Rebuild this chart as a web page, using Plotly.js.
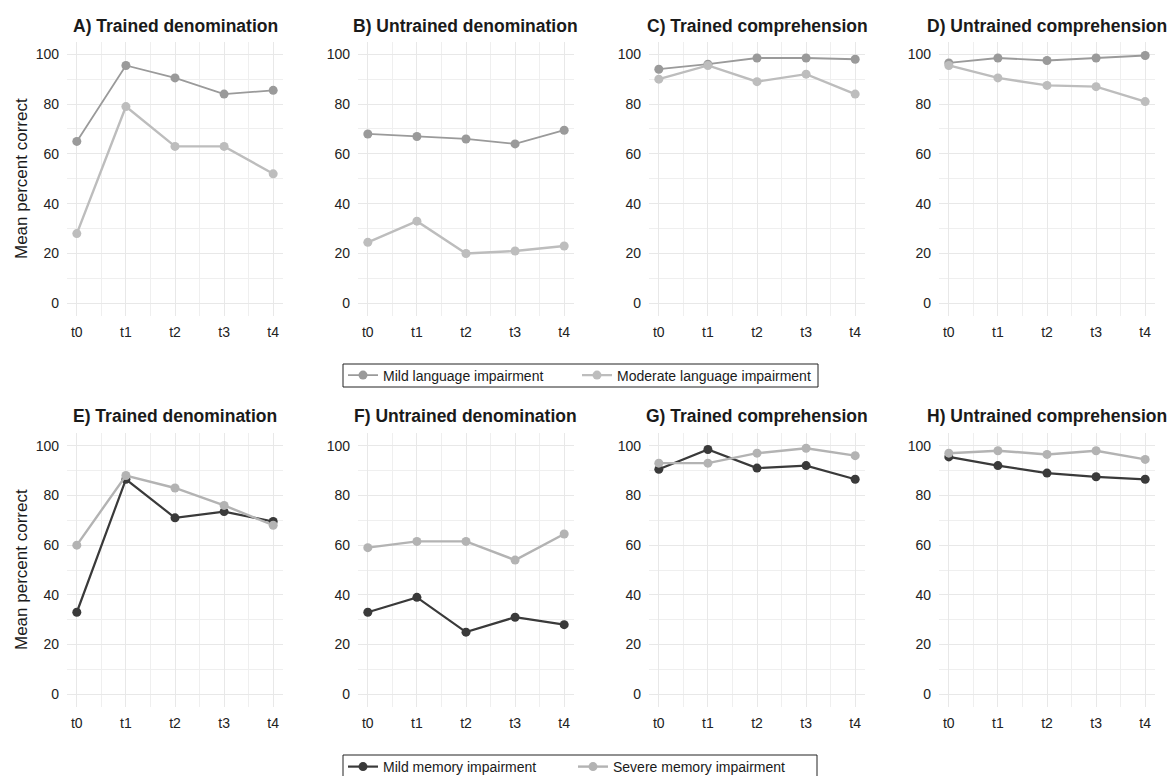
<!DOCTYPE html>
<html>
<head>
<meta charset="utf-8">
<script src="https://cdn.plot.ly/plotly-3.0.1.min.js"></script>
<style>
  html, body { margin: 0; padding: 0; background: #ffffff; }
  #chart { width: 1174px; height: 776px; }
</style>
</head>
<body>
<div id="chart"></div>
<script>
// Time points of assessment
const timepoints = ['t0', 't1', 't2', 't3', 't4'];

// Panel titles
const panelTitles = [
  'A) Trained denomination', 'B) Untrained denomination',
  'C) Trained comprehension', 'D) Untrained comprehension',
  'E) Trained denomination', 'F) Untrained denomination',
  'G) Trained comprehension', 'H) Untrained comprehension'
];

// Group names
const groupMildLanguage = 'Mild language impairment';
const groupModerateLanguage = 'Moderate language impairment';
const groupMildMemory = 'Mild memory impairment';
const groupSevereMemory = 'Severe memory impairment';

// Mean percent correct, language-impairment groups (panels A-D)
const mildLangTrainedDen     = [65, 95.5, 90.5, 84, 85.5];
const moderateLangTrainedDen = [28, 79, 63, 63, 52];
const mildLangUntrainedDen     = [68, 67, 66, 64, 69.5];
const moderateLangUntrainedDen = [24.5, 33, 20, 21, 23];
const mildLangTrainedComp     = [94, 96, 98.5, 98.5, 98];
const moderateLangTrainedComp = [90, 95.5, 89, 92, 84];
const mildLangUntrainedComp     = [96.5, 98.5, 97.5, 98.5, 99.5];
const moderateLangUntrainedComp = [95.5, 90.5, 87.5, 87, 81];

// Mean percent correct, memory-impairment groups (panels E-H)
const mildMemTrainedDen   = [33, 86.5, 71, 73.5, 69.5];
const severeMemTrainedDen = [60, 88, 83, 76, 68];
const mildMemUntrainedDen   = [33, 39, 25, 31, 28];
const severeMemUntrainedDen = [59, 61.5, 61.5, 54, 64.5];
const mildMemTrainedComp   = [90.5, 98.5, 91, 92, 86.5];
const severeMemTrainedComp = [93, 93, 97, 99, 96];
const mildMemUntrainedComp   = [95.5, 92, 89, 87.5, 86.5];
const severeMemUntrainedComp = [97, 98, 96.5, 98, 94.5];

// Y-axis ticks
const yTicks = [0, 20, 40, 60, 80, 100];
const yMinor = [10, 30, 50, 70, 90];

const FONT = '"Liberation Sans", Arial, Helvetica, sans-serif';
const W = 1174, H = 776;

const xIdx = timepoints.map((_, i) => i);
const xMinor = timepoints.slice(1).map((_, i) => i + 0.5);

// Styles per group
const styles = {
  mildLang:   { color: '#9a9a9a', width: 1.8, legend: 'legend'  },
  modLang:    { color: '#bdbdbd', width: 2.4, legend: 'legend'  },
  mildMem:    { color: '#3a3a3a', width: 2.2, legend: 'legend2' },
  sevMem:     { color: '#b3b3b3', width: 2.4, legend: 'legend2' }
};

// Panel contents: [first series, second series]
const panels = [
  [[groupMildLanguage, mildLangTrainedDen, 'mildLang'], [groupModerateLanguage, moderateLangTrainedDen, 'modLang']],
  [[groupMildLanguage, mildLangUntrainedDen, 'mildLang'], [groupModerateLanguage, moderateLangUntrainedDen, 'modLang']],
  [[groupMildLanguage, mildLangTrainedComp, 'mildLang'], [groupModerateLanguage, moderateLangTrainedComp, 'modLang']],
  [[groupMildLanguage, mildLangUntrainedComp, 'mildLang'], [groupModerateLanguage, moderateLangUntrainedComp, 'modLang']],
  [[groupMildMemory, mildMemTrainedDen, 'mildMem'], [groupSevereMemory, severeMemTrainedDen, 'sevMem']],
  [[groupMildMemory, mildMemUntrainedDen, 'mildMem'], [groupSevereMemory, severeMemUntrainedDen, 'sevMem']],
  [[groupMildMemory, mildMemTrainedComp, 'mildMem'], [groupSevereMemory, severeMemTrainedComp, 'sevMem']],
  [[groupMildMemory, mildMemUntrainedComp, 'mildMem'], [groupSevereMemory, severeMemUntrainedComp, 'sevMem']]
];

// Panel geometry in pixels
const colLeft = [67, 358, 649, 939];
const panelW = 216;
const rowTop = [41.8, 433.3];
const rowBottom = [315.8, 706.7];

// Legend boxes (pixels): left, right, top, bottom
const legendBoxes = [[343, 818, 364, 387], [343, 817, 755, 779]];

const legendStyle = (boxIdx) => ({
  orientation: 'h',
  x: legendBoxes[boxIdx][0] / W,
  y: 1 - ((legendBoxes[boxIdx][2] + legendBoxes[boxIdx][3]) / 2) / H,
  xanchor: 'left', yanchor: 'middle',
  borderwidth: 0, bgcolor: 'rgba(0,0,0,0)',
  font: { family: FONT, size: 14, color: '#1a1a1a' },
  itemwidth: 30, tracegroupgap: 0
});

const traces = [];
const layout = {
  width: W, height: H,
  margin: { l: 0, r: 0, t: 0, b: 0, autoexpand: false },
  paper_bgcolor: '#ffffff',
  plot_bgcolor: '#ffffff',
  font: { family: FONT, color: '#222222', size: 14 },
  annotations: [],
  shapes: legendBoxes.map(([l, r, t, b]) => ({
    type: 'rect', xref: 'paper', yref: 'paper',
    x0: l / W, x1: r / W, y0: 1 - b / H, y1: 1 - t / H,
    line: { color: '#222222', width: 1 }, fillcolor: 'rgba(0,0,0,0)', layer: 'above'
  })),
  legend: legendStyle(0),
  legend2: legendStyle(1)
};

panels.forEach((series, p) => {
  const row = Math.floor(p / 4), col = p % 4;
  const n = p + 1;
  const xa = 'x' + (n === 1 ? '' : n), ya = 'y' + (n === 1 ? '' : n);
  const xKey = 'xaxis' + (n === 1 ? '' : n), yKey = 'yaxis' + (n === 1 ? '' : n);

  series.forEach(([name, vals, key], s) => {
    const st = styles[key];
    traces.push({
      type: 'scatter', mode: 'lines+markers',
      x: xIdx, y: vals, name: name,
      xaxis: xa, yaxis: ya,
      line: { color: st.color, width: st.width },
      marker: { color: st.color, size: 9 },
      legend: st.legend,
      showlegend: p === 0 || p === 4,
      legendwidth: s === 0 ? (row === 0 ? 189 : 185) : undefined,
      hoverinfo: 'x+y+name'
    });
  });

  const x0 = colLeft[col] / W, x1 = (colLeft[col] + panelW) / W;
  const y0 = 1 - rowBottom[row] / H, y1 = 1 - rowTop[row] / H;

  layout[xKey] = {
    domain: [x0, x1], anchor: ya, range: [-0.2, 4.2],
    tickmode: 'array', tickvals: xIdx, ticktext: timepoints,
    showgrid: true, gridcolor: '#e8e8e8', gridwidth: 1,
    minor: { tickmode: 'array', tickvals: xMinor, showgrid: true, gridcolor: '#efefef', gridwidth: 1, ticks: '' },
    zeroline: false, showline: false, ticks: '',
    ticklabelstandoff: 6,
    tickfont: { family: FONT, size: 14, color: '#222222' },
    fixedrange: true
  };
  layout[yKey] = {
    domain: [y0, y1], anchor: xa, range: [-5, 105],
    tickmode: 'array', tickvals: yTicks,
    showgrid: true, gridcolor: '#e8e8e8', gridwidth: 1,
    minor: { tickmode: 'array', tickvals: yMinor, showgrid: true, gridcolor: '#efefef', gridwidth: 1, ticks: '' },
    zeroline: false, showline: false, ticks: '',
    ticklabelstandoff: 7,
    tickfont: { family: FONT, size: 14, color: '#222222' },
    fixedrange: true
  };

  // Panel title
  layout.annotations.push({
    text: '<b>' + panelTitles[p] + '</b>',
    xref: 'paper', yref: 'paper',
    x: (colLeft[col] + panelW / 2) / W,
    y: 1 - (row === 0 ? 26 : 416) / H,
    xanchor: 'center', yanchor: 'middle', showarrow: false,
    font: { family: FONT, size: 17.5, color: '#1a1a1a' }
  });
});

// Shared y-axis labels for each row
[179, 570].forEach(cy => {
  layout.annotations.push({
    text: 'Mean percent correct',
    xref: 'paper', yref: 'paper',
    x: 21 / W, y: 1 - cy / H,
    xanchor: 'center', yanchor: 'middle', showarrow: false, textangle: -90,
    font: { family: FONT, size: 17, color: '#1a1a1a' }
  });
});

Plotly.newPlot('chart', traces, layout, { displayModeBar: false, staticPlot: true });
</script>
</body>
</html>
